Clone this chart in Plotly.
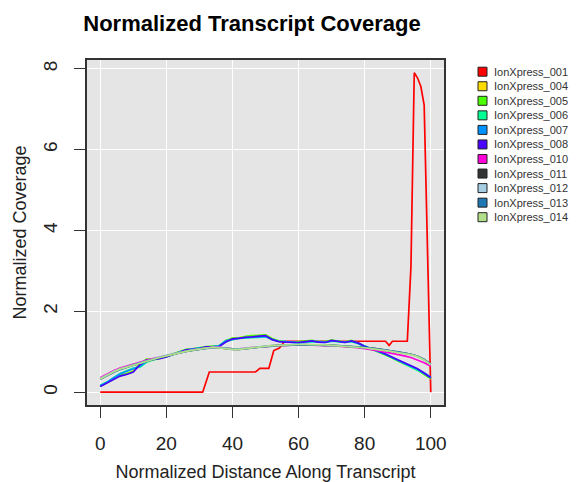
import plotly.graph_objects as go

# ---------------- data ----------------
x_grid = [0, 2, 4, 6, 8, 10, 12, 14, 16, 18, 20, 22, 24, 26, 28, 30, 32, 34, 36, 38, 40,
          42, 44, 46, 48, 50, 52, 54, 56, 58, 60, 62, 64, 66, 68, 70, 72, 74, 76, 78, 80,
          82, 84, 86, 88, 90, 92, 94, 96, 98, 100]

red_x = [0, 31, 33, 47, 48.3, 51, 52.5, 54.2, 55.6, 56, 86.3, 87.4, 88.4, 92.9, 94, 95, 96, 97, 98, 100]
red_y = [0, 0, 0.5, 0.5, 0.59, 0.59, 1.03, 1.09, 1.24, 1.26, 1.26, 1.16, 1.26, 1.26, 3.1, 7.9, 7.77, 7.56, 7.1, 0]

s004 = [0.15,0.23,0.33,0.42,0.46,0.53,0.69,0.81,0.82,0.84,0.88,0.94,1.00,1.05,1.07,1.09,1.12,1.13,1.14,1.26,1.33,1.35,1.37,1.39,1.39,1.41,1.32,1.26,1.25,1.24,1.24,1.25,1.27,1.25,1.24,1.28,1.26,1.24,1.27,1.22,1.13,1.07,1.01,0.94,0.87,0.78,0.71,0.64,0.56,0.45,0.34]
s005 = [0.15,0.23,0.33,0.41,0.46,0.52,0.70,0.82,0.80,0.84,0.88,0.95,1.00,1.06,1.07,1.10,1.13,1.14,1.15,1.28,1.34,1.34,1.38,1.40,1.41,1.42,1.33,1.27,1.25,1.24,1.25,1.26,1.28,1.25,1.25,1.29,1.27,1.24,1.28,1.21,1.12,1.06,1.00,0.93,0.86,0.77,0.70,0.63,0.55,0.44,0.33]
s006 = [0.17,0.25,0.36,0.46,0.53,0.60,0.62,0.74,0.80,0.84,0.88,0.93,0.99,1.03,1.06,1.09,1.11,1.12,1.14,1.25,1.30,1.33,1.34,1.36,1.36,1.37,1.30,1.26,1.25,1.23,1.22,1.24,1.25,1.24,1.23,1.26,1.25,1.23,1.25,1.20,1.13,1.07,1.01,0.94,0.87,0.79,0.71,0.64,0.56,0.46,0.35]
s007 = [0.16,0.24,0.35,0.45,0.52,0.58,0.64,0.76,0.82,0.85,0.88,0.94,1.00,1.04,1.07,1.09,1.11,1.13,1.15,1.27,1.31,1.34,1.35,1.36,1.37,1.38,1.31,1.26,1.25,1.24,1.22,1.24,1.26,1.25,1.24,1.26,1.26,1.24,1.26,1.21,1.14,1.07,1.01,0.96,0.87,0.79,0.72,0.65,0.57,0.48,0.37]
s008 = [0.14,0.22,0.32,0.40,0.44,0.50,0.68,0.80,0.81,0.83,0.87,0.93,0.99,1.05,1.06,1.08,1.12,1.12,1.13,1.24,1.32,1.33,1.36,1.37,1.38,1.40,1.30,1.25,1.24,1.23,1.23,1.25,1.27,1.24,1.23,1.28,1.25,1.23,1.27,1.22,1.13,1.08,1.02,0.95,0.88,0.80,0.73,0.66,0.58,0.47,0.36]
s010 = [0.36,0.45,0.53,0.60,0.65,0.70,0.74,0.79,0.83,0.87,0.91,0.95,0.98,1.02,1.05,1.07,1.09,1.11,1.11,1.09,1.07,1.07,1.09,1.10,1.12,1.13,1.15,1.16,1.16,1.17,1.17,1.17,1.16,1.16,1.15,1.15,1.14,1.13,1.12,1.10,1.08,1.06,1.03,1.00,0.97,0.94,0.90,0.86,0.80,0.73,0.64]
s011 = [0.33,0.42,0.50,0.57,0.62,0.67,0.72,0.77,0.82,0.86,0.90,0.93,0.97,1.01,1.04,1.06,1.09,1.10,1.10,1.08,1.06,1.06,1.08,1.09,1.11,1.13,1.15,1.16,1.16,1.17,1.17,1.18,1.17,1.17,1.16,1.16,1.15,1.14,1.13,1.12,1.11,1.09,1.07,1.04,1.02,0.99,0.97,0.94,0.89,0.81,0.69]
s012 = [0.34,0.43,0.51,0.58,0.63,0.68,0.73,0.78,0.82,0.87,0.91,0.95,0.98,1.02,1.05,1.07,1.09,1.11,1.11,1.09,1.07,1.07,1.09,1.10,1.12,1.14,1.15,1.16,1.17,1.18,1.18,1.18,1.18,1.17,1.16,1.16,1.15,1.14,1.13,1.12,1.10,1.08,1.06,1.04,1.01,0.99,0.96,0.93,0.88,0.80,0.69]
s013 = [0.32,0.41,0.49,0.56,0.62,0.67,0.72,0.77,0.81,0.86,0.90,0.94,0.97,1.01,1.04,1.06,1.08,1.10,1.10,1.08,1.07,1.06,1.08,1.10,1.11,1.13,1.14,1.16,1.16,1.17,1.17,1.17,1.17,1.16,1.16,1.16,1.15,1.14,1.14,1.12,1.11,1.09,1.07,1.05,1.02,1.00,0.97,0.94,0.89,0.81,0.70]
s014 = [0.33,0.42,0.50,0.57,0.62,0.67,0.72,0.77,0.82,0.86,0.90,0.94,0.98,1.01,1.04,1.07,1.09,1.11,1.10,1.08,1.06,1.06,1.08,1.10,1.12,1.13,1.15,1.16,1.17,1.17,1.18,1.18,1.17,1.17,1.17,1.16,1.15,1.14,1.13,1.12,1.10,1.08,1.06,1.03,1.01,0.98,0.96,0.93,0.88,0.80,0.68]

names = ["IonXpress_001", "IonXpress_004", "IonXpress_005", "IonXpress_006", "IonXpress_007",
         "IonXpress_008", "IonXpress_010", "IonXpress_011", "IonXpress_012", "IonXpress_013",
         "IonXpress_014"]
colors = ["#FF0000", "#FFDB00", "#49FF00", "#00FF92", "#0092FF", "#4900FF", "#FF00DB",
          "#333333", "#A6CEE3", "#1F78B4", "#B2DF8A"]

x_ticks = [0, 20, 40, 60, 80, 100]
y_ticks = [0, 2, 4, 6, 8]

# ---------------- figure ----------------
W, H = 577, 482
L, R, T, B = 87, 133, 60, 77
PW, PH = W - L - R, H - T - B

series = [(red_x, red_y), (x_grid, s004), (x_grid, s005), (x_grid, s006), (x_grid, s007),
          (x_grid, s008), (x_grid, s010), (x_grid, s011), (x_grid, s012), (x_grid, s013),
          (x_grid, s014)]

fig = go.Figure()
for (xs, ys), n, c in zip(series, names, colors):
    fig.add_trace(go.Scatter(x=xs, y=ys, mode="lines", name=n,
                             line=dict(color=c, width=1.7), showlegend=False))

FONT = "Liberation Sans, Arial, Helvetica, sans-serif"

fig.update_layout(
    width=W, height=H, autosize=False,
    margin=dict(l=L, r=R, t=T, b=B, pad=0, autoexpand=False),
    paper_bgcolor="white", plot_bgcolor="#E5E5E5",
    font=dict(family=FONT, color="black"),
    showlegend=False,
    title=dict(text="<b>Normalized Transcript Coverage</b>", x=252 / W, xanchor="center",
               xref="container", y=1 - 23 / H, yanchor="middle", yref="container",
               font=dict(size=22, color="black")),
)
fig.update_xaxes(range=[-4, 104], tickvals=x_ticks, ticktext=[str(v) for v in x_ticks],
                 showgrid=True, gridcolor="white", gridwidth=1, zeroline=False,
                 ticks="outside", ticklen=11, tickwidth=1, tickcolor="#333333",
                 showline=True, mirror=True, linecolor="#333333", linewidth=1.5,
                 tickfont=dict(size=19, color="#222222"), ticklabelstandoff=9,
                 automargin=False,
                 title=dict(text="Normalized Distance Along Transcript",
                            font=dict(size=18, color="#222222"), standoff=15))
fig.update_yaxes(range=[-0.316, 8.216], tickvals=y_ticks, ticktext=[str(v) for v in y_ticks],
                 showgrid=True, gridcolor="white", gridwidth=1, zeroline=False,
                 ticks="outside", ticklen=11, tickwidth=1, tickcolor="#333333",
                 showline=True, mirror=True, linecolor="#333333", linewidth=1.5,
                 tickangle=-90, tickfont=dict(size=19, color="#222222"), ticklabelstandoff=10,
                 automargin=False,
                 title=dict(text="Normalized Coverage",
                            font=dict(size=18, color="#222222"), standoff=8))

# manual legend (R-style compact legend)
LEG_X0 = 478
LEG_Y0 = 71.7
LEG_DY = 14.55
SQ = 9
for i, (n, c) in enumerate(zip(names, colors)):
    yc = LEG_Y0 + i * LEG_DY
    fig.add_shape(type="rect", xref="paper", yref="paper",
                  x0=(LEG_X0 - L) / PW, x1=(LEG_X0 + SQ - L) / PW,
                  y0=(H - B - (yc + SQ / 2)) / PH, y1=(H - B - (yc - SQ / 2)) / PH,
                  fillcolor=c, line=dict(color="#222222", width=1))
    fig.add_annotation(text=n, xref="paper", yref="paper",
                       x=(LEG_X0 + SQ + 5 - L) / PW, y=(H - B - yc) / PH,
                       xanchor="left", yanchor="middle", showarrow=False,
                       font=dict(size=11, color="#333333"))

fig.write_html("out.html", config={"displayModeBar": False},
               post_script="document.body.style.margin='0';")
